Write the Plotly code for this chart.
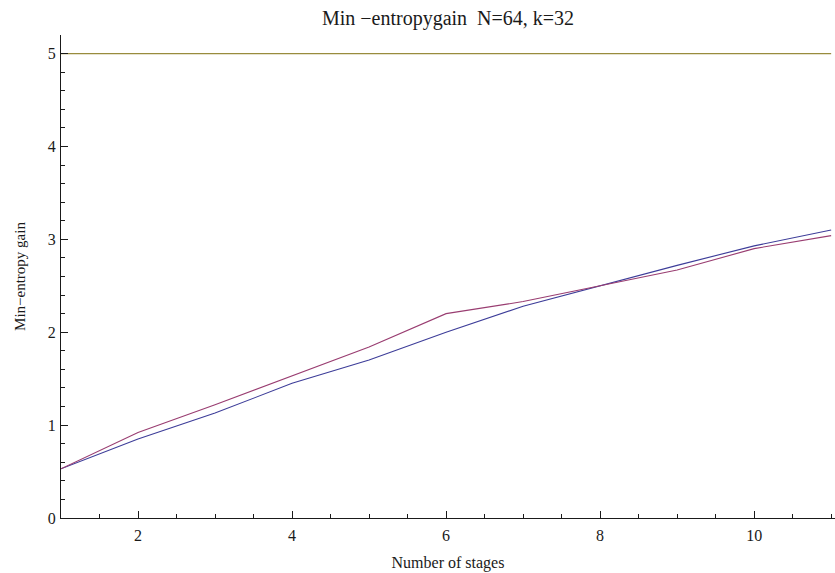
import plotly.graph_objects as go

# Number of stages
stages = [1, 2, 3, 4, 5, 6, 7, 8, 9, 10, 11]

# Min-entropy gain for the two constructions
gain_a = [0.53, 0.85, 1.13, 1.45, 1.70, 2.00, 2.28, 2.50, 2.72, 2.93, 3.10]
gain_b = [0.53, 0.92, 1.22, 1.53, 1.84, 2.20, 2.33, 2.50, 2.67, 2.90, 3.04]

# Constant reference level
bound = [5.0] * len(stages)

colors = ["#3D3D99", "#993D71", "#998C3D"]
font = "Liberation Serif, Times New Roman, serif"
ink = "#1a1a1a"

fig = go.Figure()
for ys, c in zip([gain_a, gain_b, bound], colors):
    fig.add_trace(go.Scatter(x=stages, y=ys, mode="lines",
                             line=dict(color=c, width=1.1),
                             showlegend=False))

axis_common = dict(
    showline=True, linecolor=ink, linewidth=1.2,
    showgrid=False, zeroline=False,
    ticks="inside", tickcolor=ink, ticklen=7, tickwidth=1,
    tickfont=dict(family=font, size=16, color=ink),
)

fig.update_layout(
    width=835, height=573,
    margin=dict(l=61, r=0, t=35, b=55),
    paper_bgcolor="white", plot_bgcolor="white",
    title=dict(text="Min −entropygain  N=64, k=32",
               font=dict(family=font, size=20, color=ink),
               x=0.5, xref="paper", y=0.969, yref="container",
               xanchor="center", yanchor="middle"),
    xaxis=dict(range=[1, 11.05], tickvals=[2, 4, 6, 8, 10],
               minor=dict(dtick=0.5, tick0=0, ticks="inside", ticklen=4,
                          tickcolor=ink),
               ticklabelstandoff=3,
               title=dict(text="Number of stages",
                          font=dict(family=font, size=16, color=ink),
                          standoff=13),
               **axis_common),
    yaxis=dict(range=[0, 5.2], tickvals=[0, 1, 2, 3, 4, 5],
               minor=dict(dtick=0.2, tick0=0, ticks="inside", ticklen=4,
                          tickcolor=ink),
               ticklabelstandoff=1,
               title=dict(text="Min−entropy gain",
                          font=dict(family=font, size=15, color=ink),
                          standoff=18),
               **axis_common),
)

fig.write_html("out.html")
